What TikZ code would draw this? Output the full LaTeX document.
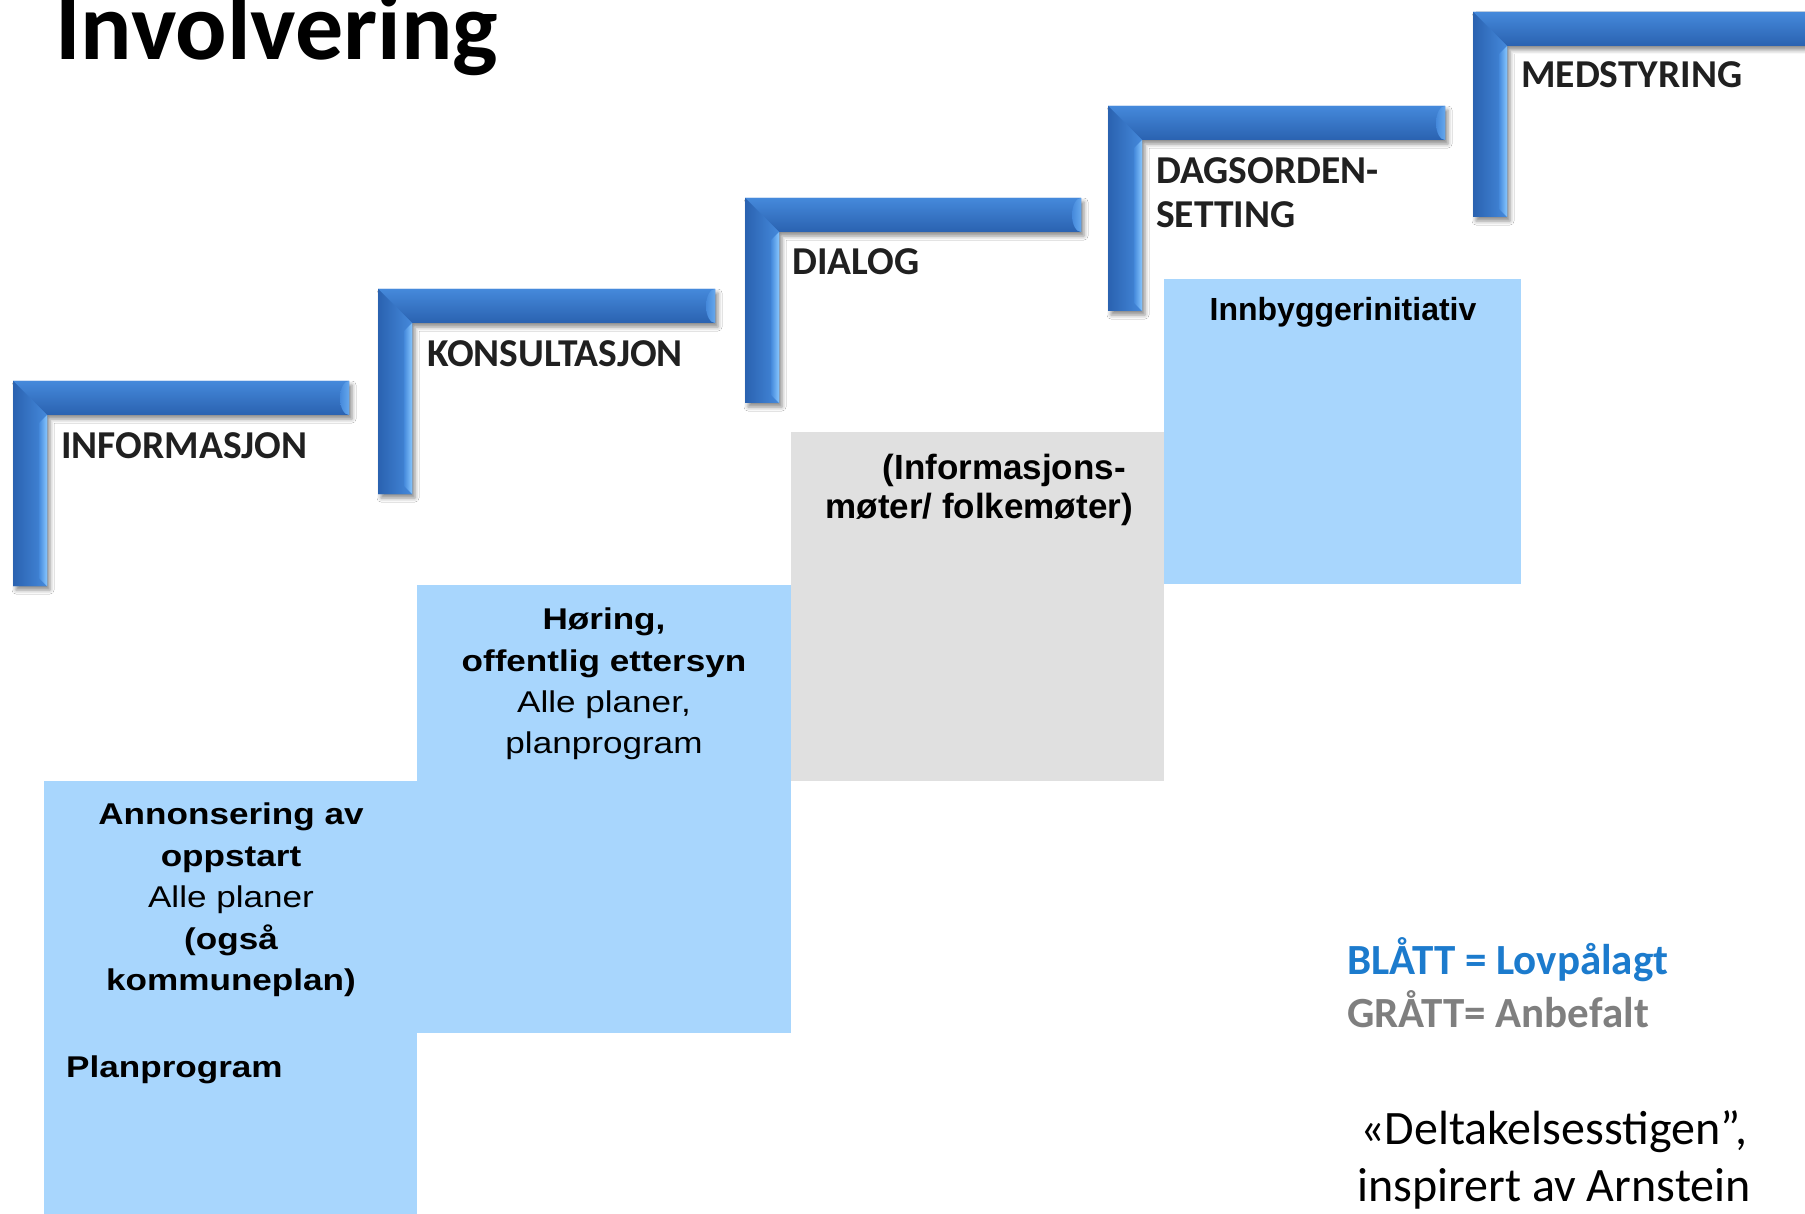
\documentclass[tikz,border=0pt]{standalone}
\usepackage{fontspec}
\setmainfont{Carlito}
\newfontfamily\arialf{Liberation Sans}
\newfontfamily\arialwide[FakeStretch=1.17]{Liberation Sans}
\usetikzlibrary{shadows.blur}
\definecolor{barblue}{HTML}{3A7ED0}
\definecolor{bardark}{HTML}{2A62B0}
\definecolor{barmid}{HTML}{4589DB}
\definecolor{barlight}{HTML}{86C6FF}
\definecolor{boxblue}{HTML}{A8D6FD}
\definecolor{boxgray}{HTML}{E0E0E0}
\definecolor{legblue}{HTML}{1C7BCD}
\definecolor{leggray}{HTML}{7F7F7F}
\definecolor{labelgray}{HTML}{202020}
\tikzset{
  steplabel/.style={font=\fontsize{39.5}{44}\selectfont\bfseries, text=labelgray, inner sep=0pt, anchor=base west},
  wideboxtext/.style={font=\arialwide\fontsize{30}{41.4}\selectfont, text=black, inner sep=0pt, align=center},
  boxtext/.style={font=\arialf\bfseries\fontsize{35}{39}\selectfont, text=black, inner sep=0pt},
  legend/.style={font=\fontsize{43}{46}\selectfont\bfseries, inner sep=0pt, anchor=base west},
}
\newcommand\ladderstep[3]{%
  \begin{scope}[shift={(#1,#2)}]
    \path[blur shadow={shadow xshift=3pt, shadow yshift=-4pt, shadow blur radius=4pt, shadow opacity=45}, fill=barblue]
      (0,0) -- (#3,0) -- (#3,34) -- (34,34) -- (34,205) -- (0,205) -- cycle;
    \shade[top color=barmid, bottom color=bardark] (0,0) -- (#3,0) -- (#3,34) -- (34,34) -- cycle;
    \shade[left color=bardark, right color=barmid] (0,0) -- (34,34) -- (34,205) -- (0,205) -- cycle;
    \shade[left color=barmid, right color=barlight] (26,42) -- (34,34) -- (34,205) -- (26,197) -- cycle;
    \begin{scope}
      \clip (0,0) rectangle (#3,34);
      \shade[left color=barmid, right color=barlight] (#3,17) ellipse (9 and 17);
    \end{scope}
  \end{scope}}
\begin{document}
\begin{tikzpicture}[x=1pt,y=-1pt]
\useasboundingbox[fill=white] (0,0) rectangle (1805,1214);

% boxes
\fill[boxblue] (44,781) rectangle (417,1214);
\fill[boxblue] (417,585) rectangle (791,1033);
\fill[boxgray] (791,432) rectangle (1164,781);
\fill[boxblue] (1164,279) rectangle (1521,584);

% ladder steps
\ladderstep{13}{381}{336}
\ladderstep{378}{289}{337}
\ladderstep{745}{198}{336}
\ladderstep{1108}{106}{337}
\ladderstep{1473}{12}{345}

% title
\node[font=\fontsize{96}{100}\selectfont\bfseries, inner sep=0pt, anchor=base west] (title) at (55,60) {Involvering};

% step labels
\node[steplabel] (informasjon) at (61,458) {INFORMASJON};
\node[steplabel] (konsultasjon) at (427,367) {KONSULTASJON};
\node[steplabel] (dialog) at (792,275) {DIALOG};
\node[steplabel, anchor=north west, align=left] (dagsorden) at (1156,157) {DAGSORDEN-\\SETTING};
\node[steplabel] (medstyring) at (1521,88) {MEDSTYRING};

% box texts
\node[wideboxtext] (annonsering) at (231,900) {\bfseries Annonsering av\\\bfseries oppstart\\Alle planer\\\bfseries (også\\\bfseries kommuneplan)};
\node[wideboxtext, anchor=base west] (planprogram) at (66,1077) {\bfseries Planprogram};
\node[wideboxtext] (horing) at (604,684) {\bfseries Høring,\\\bfseries offentlig ettersyn\\Alle planer,\\planprogram};
\node[boxtext, align=right, anchor=east] (infomoter) at (1133,490) {(Informasjons-\hspace*{7pt}\\møter/ folkemøter)};
\node[font=\arialf\bfseries\fontsize{32}{36}\selectfont, inner sep=0pt, anchor=base] (innbygger) at (1343,321) {Innbyggerinitiativ};

% legend
\node[legend, text=legblue] (blatt) at (1347,974) {BLÅTT = Lovpålagt};
\node[legend, text=leggray] (gratt) at (1347,1027) {GRÅTT= Anbefalt};

% source note
\node[font=\fontsize{48}{57}\selectfont, inner sep=0pt, align=center] (kilde) at (1554,1160) {«Deltakelsesstigen”,\\inspirert av Arnstein};
\end{tikzpicture}
\end{document}
